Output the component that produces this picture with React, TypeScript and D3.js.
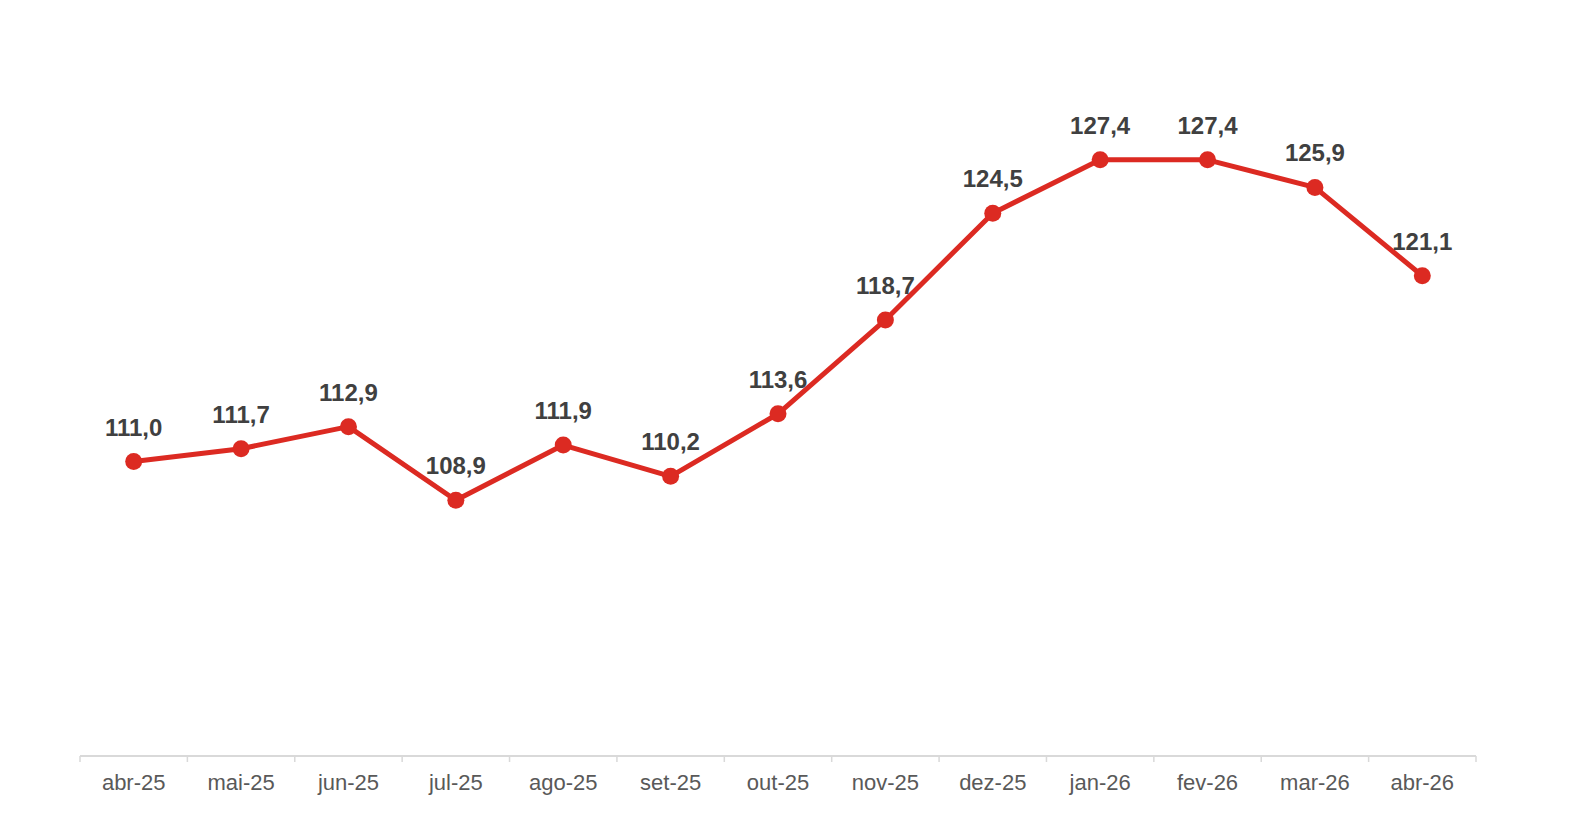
import { useEffect, useRef } from "react"
import * as d3 from "d3"

const months = [
  "abr-25", "mai-25", "jun-25", "jul-25", "ago-25", "set-25", "out-25",
  "nov-25", "dez-25", "jan-26", "fev-26", "mar-26", "abr-26",
]
const values = [111.0, 111.7, 112.9, 108.9, 111.9, 110.2, 113.6, 118.7, 124.5, 127.4, 127.4, 125.9, 121.1]

const yDomain = [95, 130]

export default function App() {
  const svgRef = useRef<SVGSVGElement>(null)

  useEffect(() => {
    if (!svgRef.current) return
    const svg = d3.select(svgRef.current)
    svg.selectAll("*").remove()

    const width = 1592
    const height = 826
    const margin = { top: 112, right: 116, bottom: 70, left: 80 }
    const innerWidth = width - margin.left - margin.right
    const innerHeight = height - margin.top - margin.bottom

    const g = svg.append("g").attr("transform", `translate(${margin.left},${margin.top})`)

    const x = d3.scaleBand().domain(months).range([0, innerWidth])
    const y = d3.scaleLinear().domain(yDomain).range([innerHeight, 0])

    // category axis
    const axis = g.append("g").attr("transform", `translate(0,${innerHeight})`)
    axis.append("line")
      .attr("x1", 0)
      .attr("x2", innerWidth)
      .attr("stroke", "#d9d9d9")
      .attr("stroke-width", 2)
    const bounds = months.map((m) => x(m) as number).concat([innerWidth])
    axis.selectAll("line.tick")
      .data(bounds)
      .join("line")
      .attr("class", "tick")
      .attr("x1", (d) => d)
      .attr("x2", (d) => d)
      .attr("y1", 0)
      .attr("y2", 6)
      .attr("stroke", "#d9d9d9")
      .attr("stroke-width", 1.5)
    axis.selectAll("text")
      .data(months)
      .join("text")
      .attr("x", (d) => (x(d) as number) + x.bandwidth() / 2)
      .attr("y", 34)
      .attr("text-anchor", "middle")
      .attr("fill", "#595959")
      .style("font-family", "'Liberation Sans', Arial, sans-serif")
      .style("font-size", "22px")
      .text((d) => d)

    const data = months.map((m, i) => ({ m, v: values[i] }))
    const cx = (d: { m: string }) => (x(d.m) as number) + x.bandwidth() / 2

    const line = d3.line<{ m: string; v: number }>()
      .x(cx)
      .y((d) => y(d.v))

    g.append("path")
      .datum(data)
      .attr("fill", "none")
      .attr("stroke", "#dc2a22")
      .attr("stroke-width", 5)
      .attr("stroke-linejoin", "round")
      .attr("d", line)

    g.selectAll("circle")
      .data(data)
      .join("circle")
      .attr("cx", cx)
      .attr("cy", (d) => y(d.v))
      .attr("r", 8.5)
      .attr("fill", "#dc2a22")

    g.selectAll("text.label")
      .data(data)
      .join("text")
      .attr("class", "label")
      .attr("x", cx)
      .attr("y", (d) => y(d.v) - 26)
      .attr("text-anchor", "middle")
      .attr("fill", "#404040")
      .style("font-family", "'Liberation Sans', Arial, sans-serif")
      .style("font-size", "24px")
      .style("font-weight", "bold")
      .text((d) => d.v.toFixed(1).replace(".", ","))
  }, [])

  return (
    <svg
      ref={svgRef}
      width={1592}
      height={826}
      style={{ position: "absolute", left: 0, top: 0, background: "#fff" }}
    />
  )
}
